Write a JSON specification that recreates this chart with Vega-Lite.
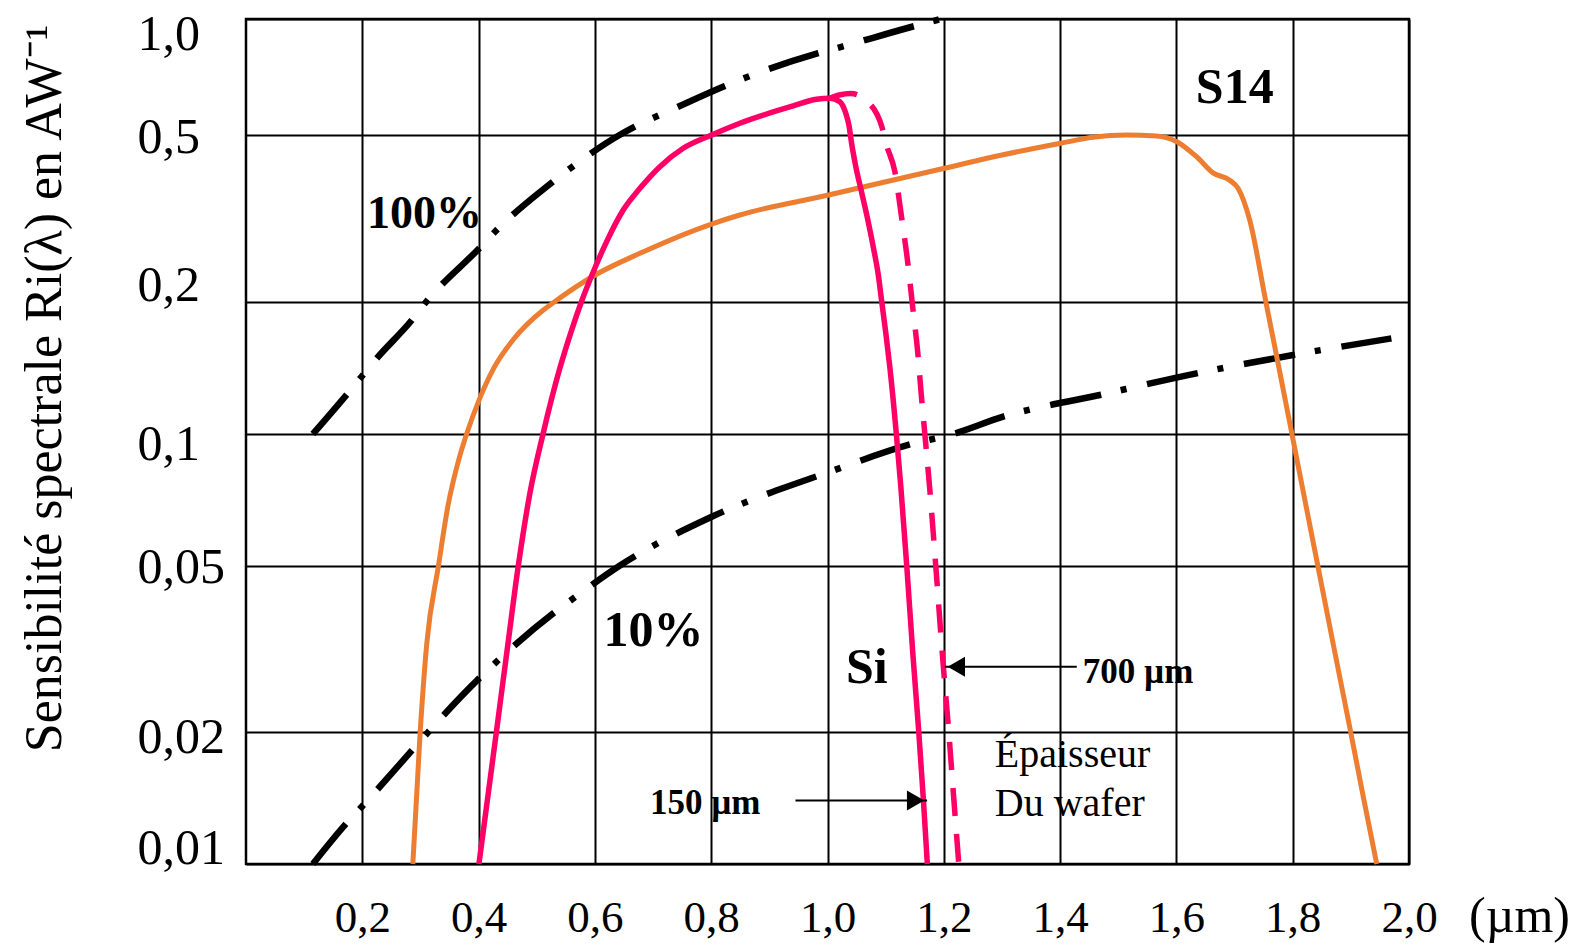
{
  "$schema": "https://vega.github.io/schema/vega-lite/v6.json",
  "width": 1163,
  "height": 845,
  "autosize": {"type": "none"},
  "padding": {"left": 246, "top": 19, "right": 174, "bottom": 81},
  "background": "white",
  "config": {"view": {"stroke": "black", "strokeWidth": 2.5}, "font": "Liberation Serif"},
  "datasets": {
    "curves": [
      {"series": "p100", "x": 0.115, "y": 0.100},
      {"series": "p100", "x": 0.1718, "y": 0.1223},
      {"series": "p100", "x": 0.1987, "y": 0.135},
      {"series": "p100", "x": 0.2244, "y": 0.1484},
      {"series": "p100", "x": 0.2846, "y": 0.1812},
      {"series": "p100", "x": 0.310, "y": 0.200},
      {"series": "p100", "x": 0.4008, "y": 0.268},
      {"series": "p100", "x": 0.4294, "y": 0.295},
      {"series": "p100", "x": 0.5279, "y": 0.387},
      {"series": "p100", "x": 0.5594, "y": 0.418},
      {"series": "p100", "x": 0.6424, "y": 0.500},
      {"series": "p100", "x": 0.6688, "y": 0.5255},
      {"series": "p100", "x": 0.7433, "y": 0.592},
      {"series": "p100", "x": 0.8235, "y": 0.670},
      {"series": "p100", "x": 0.8608, "y": 0.706},
      {"series": "p100", "x": 0.984, "y": 0.815},
      {"series": "p100", "x": 1.024, "y": 0.847},
      {"series": "p100", "x": 1.150, "y": 0.959},
      {"series": "p100", "x": 1.195, "y": 1.0},
      {"series": "p10", "x": 0.115, "y": 0.0100},
      {"series": "p10", "x": 0.1718, "y": 0.01235},
      {"series": "p10", "x": 0.1987, "y": 0.0135},
      {"series": "p10", "x": 0.2846, "y": 0.01813},
      {"series": "p10", "x": 0.313, "y": 0.0200},
      {"series": "p10", "x": 0.4008, "y": 0.0269},
      {"series": "p10", "x": 0.4306, "y": 0.02946},
      {"series": "p10", "x": 0.5308, "y": 0.0387},
      {"series": "p10", "x": 0.5623, "y": 0.0417},
      {"series": "p10", "x": 0.6424, "y": 0.0500},
      {"series": "p10", "x": 0.80, "y": 0.0646},
      {"series": "p10", "x": 1.0152, "y": 0.083},
      {"series": "p10", "x": 1.1387, "y": 0.0944},
      {"series": "p10", "x": 1.216, "y": 0.100},
      {"series": "p10", "x": 1.302, "y": 0.1095},
      {"series": "p10", "x": 1.4682, "y": 0.1227},
      {"series": "p10", "x": 1.6345, "y": 0.1374},
      {"series": "p10", "x": 1.8006, "y": 0.1513},
      {"series": "p10", "x": 1.9697, "y": 0.165},
      {"series": "S14", "x": 0.2869, "y": 0.010},
      {"series": "S14", "x": 0.2995, "y": 0.020},
      {"series": "S14", "x": 0.3108, "y": 0.0325},
      {"series": "S14", "x": 0.3310, "y": 0.050},
      {"series": "S14", "x": 0.3473, "y": 0.0685},
      {"series": "S14", "x": 0.3681, "y": 0.0895},
      {"series": "S14", "x": 0.3794, "y": 0.100},
      {"series": "S14", "x": 0.4006, "y": 0.1193},
      {"series": "S14", "x": 0.4252, "y": 0.1405},
      {"series": "S14", "x": 0.4594, "y": 0.1638},
      {"series": "S14", "x": 0.5108, "y": 0.1912},
      {"series": "S14", "x": 0.5307, "y": 0.200},
      {"series": "S14", "x": 0.6005, "y": 0.2316},
      {"series": "S14", "x": 0.6774, "y": 0.2609},
      {"series": "S14", "x": 0.8006, "y": 0.3065},
      {"series": "S14", "x": 0.8493, "y": 0.3221},
      {"series": "S14", "x": 1.0018, "y": 0.3595},
      {"series": "S14", "x": 1.2012, "y": 0.4165},
      {"series": "S14", "x": 1.300, "y": 0.448},
      {"series": "S14", "x": 1.4012, "y": 0.478},
      {"series": "S14", "x": 1.4567, "y": 0.4937},
      {"series": "S14", "x": 1.514, "y": 0.500},
      {"series": "S14", "x": 1.5656, "y": 0.4975},
      {"series": "S14", "x": 1.6009, "y": 0.482},
      {"series": "S14", "x": 1.6346, "y": 0.4437},
      {"series": "S14", "x": 1.663, "y": 0.406},
      {"series": "S14", "x": 1.6917, "y": 0.390},
      {"series": "S14", "x": 1.706, "y": 0.373},
      {"series": "S14", "x": 1.7261, "y": 0.313},
      {"series": "S14", "x": 1.7538, "y": 0.200},
      {"series": "S14", "x": 1.7764, "y": 0.1413},
      {"series": "S14", "x": 1.7987, "y": 0.100},
      {"series": "S14", "x": 1.8209, "y": 0.0707},
      {"series": "S14", "x": 1.8432, "y": 0.050},
      {"series": "S14", "x": 1.8714, "y": 0.0316},
      {"series": "S14", "x": 1.8998, "y": 0.020},
      {"series": "S14", "x": 1.9218, "y": 0.01415},
      {"series": "S14", "x": 1.9445, "y": 0.010},
      {"series": "Si150", "x": 0.4006, "y": 0.010},
      {"series": "Si150", "x": 0.4305, "y": 0.020},
      {"series": "Si150", "x": 0.4504, "y": 0.0325},
      {"series": "Si150", "x": 0.4683, "y": 0.050},
      {"series": "Si150", "x": 0.4879, "y": 0.0728},
      {"series": "Si150", "x": 0.5108, "y": 0.100},
      {"series": "Si150", "x": 0.5393, "y": 0.1405},
      {"series": "Si150", "x": 0.5600, "y": 0.1724},
      {"series": "Si150", "x": 0.5768, "y": 0.200},
      {"series": "Si150", "x": 0.6000, "y": 0.2407},
      {"series": "Si150", "x": 0.6206, "y": 0.2791},
      {"series": "Si150", "x": 0.6487, "y": 0.3311},
      {"series": "Si150", "x": 0.6774, "y": 0.3729},
      {"series": "Si150", "x": 0.7118, "y": 0.4201},
      {"series": "Si150", "x": 0.7518, "y": 0.4648},
      {"series": "Si150", "x": 0.8006, "y": 0.500},
      {"series": "Si150", "x": 0.8493, "y": 0.5364},
      {"series": "Si150", "x": 0.941, "y": 0.595},
      {"series": "Si150", "x": 0.981, "y": 0.619},
      {"series": "Si150", "x": 1.004, "y": 0.623},
      {"series": "Si150", "x": 1.0212, "y": 0.610},
      {"series": "Si150", "x": 1.0307, "y": 0.5737},
      {"series": "Si150", "x": 1.0368, "y": 0.5306},
      {"series": "Si150", "x": 1.0419, "y": 0.4731},
      {"series": "Si150", "x": 1.0487, "y": 0.4201},
      {"series": "Si150", "x": 1.0590, "y": 0.3634},
      {"series": "Si150", "x": 1.0694, "y": 0.3133},
      {"series": "Si150", "x": 1.0797, "y": 0.2657},
      {"series": "Si150", "x": 1.0874, "y": 0.2316},
      {"series": "Si150", "x": 1.0929, "y": 0.2018},
      {"series": "Si150", "x": 1.1003, "y": 0.1697},
      {"series": "Si150", "x": 1.1072, "y": 0.142},
      {"series": "Si150", "x": 1.1184, "y": 0.100},
      {"series": "Si150", "x": 1.1261, "y": 0.0758},
      {"series": "Si150", "x": 1.1364, "y": 0.0497},
      {"series": "Si150", "x": 1.1467, "y": 0.0309},
      {"series": "Si150", "x": 1.1570, "y": 0.020},
      {"series": "Si150", "x": 1.1648, "y": 0.0141},
      {"series": "Si150", "x": 1.1717, "y": 0.010},
      {"series": "Si700", "x": 1.004, "y": 0.623},
      {"series": "Si700", "x": 1.02, "y": 0.635},
      {"series": "Si700", "x": 1.04, "y": 0.641},
      {"series": "Si700", "x": 1.055, "y": 0.632},
      {"series": "Si700", "x": 1.070, "y": 0.609},
      {"series": "Si700", "x": 1.0935, "y": 0.525},
      {"series": "Si700", "x": 1.1015, "y": 0.473},
      {"series": "Si700", "x": 1.1158, "y": 0.409},
      {"series": "Si700", "x": 1.1273, "y": 0.319},
      {"series": "Si700", "x": 1.1381, "y": 0.2474},
      {"series": "Si700", "x": 1.1467, "y": 0.1935},
      {"series": "Si700", "x": 1.1553, "y": 0.1529},
      {"series": "Si700", "x": 1.1613, "y": 0.1227},
      {"series": "Si700", "x": 1.1674, "y": 0.100},
      {"series": "Si700", "x": 1.1760, "y": 0.0745},
      {"series": "Si700", "x": 1.1863, "y": 0.0497},
      {"series": "Si700", "x": 1.1983, "y": 0.0298},
      {"series": "Si700", "x": 1.2086, "y": 0.020},
      {"series": "Si700", "x": 1.2172, "y": 0.0141},
      {"series": "Si700", "x": 1.2258, "y": 0.010}
    ],
    "bigLabels": [
      {"text": "S14", "x": 1.7003, "y": 0.605},
      {"text": "100%", "x": 0.3069, "y": 0.300},
      {"text": "10%", "x": 0.7006, "y": 0.0321},
      {"text": "Si", "x": 1.0677, "y": 0.0262}
    ],
    "smallBold": [
      {"text": "700 µm", "x": 1.439, "y": 0.0263},
      {"text": "150 µm", "x": 0.6946, "y": 0.01303}
    ],
    "regular": [
      {"text": "Épaisseur", "x": 1.2877, "y": 0.01669},
      {"text": "Du wafer", "x": 1.2877, "y": 0.01289}
    ],
    "arrows": [
      {"dir": "left", "x": 1.2018, "x2": 1.4287, "y": 0.02869},
      {"dir": "right", "x": 1.1713, "x2": 0.9449, "y": 0.01396}
    ]
  },
  "encoding": {
    "x": {
      "field": "x", "type": "quantitative",
      "scale": {"domain": [0, 2], "nice": false, "zero": false},
      "axis": {
        "values": [0.2, 0.4, 0.6, 0.8, 1.0, 1.2, 1.4, 1.6, 1.8, 2.0],
        "grid": true, "gridColor": "black", "gridWidth": 2, "gridOpacity": 1,
        "domain": false, "ticks": false, "tickSize": 0,
        "labelExpr": "replace(format(datum.value, '.1f'), '.', ',')",
        "labelFont": "Liberation Serif", "labelFontSize": 45, "labelColor": "black",
        "labelBaseline": "alphabetic", "labelPadding": 67, "labelFlush": false, "labelOverlap": false,
        "title": "(µm)", "titleFont": "Liberation Serif", "titleFontSize": 50, "titleFontWeight": "normal",
        "titleColor": "black", "titleX": 1273, "titleY": 67, "titleAlign": "center",
        "titleBaseline": "alphabetic", "titleAngle": 0
      }
    },
    "y": {
      "field": "y", "type": "quantitative",
      "scale": {
        "type": "log", "nice": false,
        "domain": [0.01, 0.02, 0.05, 0.1, 0.2, 0.5, 1],
        "range": [845, 713.3, 546.7, 415, 282.7, 116, 0]
      },
      "axis": {
        "values": [0.01, 0.02, 0.05, 0.1, 0.2, 0.5, 1],
        "grid": true, "gridColor": "black", "gridWidth": 2, "gridOpacity": 1,
        "domain": false, "ticks": false, "tickSize": 0,
        "labelExpr": "datum.value == 1 ? '1,0' : replace(toString(datum.value), '.', ',')",
        "labelFont": "Liberation Serif", "labelFontSize": 50, "labelColor": "black",
        "labelAlign": "left", "labelPadding": 109, "labelBaseline": "middle",
        "labelFlush": false, "labelOverlap": false,
        "labelOffset": {
          "condition": [
            {"test": "datum.value == 1", "value": 15},
            {"test": "datum.value == 0.5", "value": 2},
            {"test": "datum.value == 0.2", "value": -16},
            {"test": "datum.value == 0.1", "value": 10},
            {"test": "datum.value == 0.05", "value": 2},
            {"test": "datum.value == 0.02", "value": 5},
            {"test": "datum.value == 0.01", "value": -16}
          ],
          "value": 0
        },
        "title": "Sensibilité spectrale Ri(λ) en AW⁻¹",
        "titleFont": "Liberation Serif", "titleFontSize": 52, "titleFontWeight": "normal",
        "titleColor": "black", "titleAngle": -90, "titleX": -186, "titleY": 369,
        "titleAlign": "center", "titleBaseline": "alphabetic"
      }
    }
  },
  "layer": [
    {
      "data": {"name": "curves"},
      "transform": [{"filter": "datum.series == 'p100' || datum.series == 'p10'"}],
      "mark": {"type": "line", "color": "black", "strokeWidth": 6.5, "strokeDash": [52, 20, 6, 21], "strokeCap": "butt", "interpolate": "monotone"},
      "encoding": {"detail": {"field": "series"}}
    },
    {
      "data": {"name": "curves"},
      "transform": [{"filter": "datum.series == 'S14'"}],
      "mark": {"type": "line", "color": "#ED7D31", "strokeWidth": 5, "interpolate": "monotone"},
      "encoding": {}
    },
    {
      "data": {"name": "curves"},
      "transform": [{"filter": "datum.series == 'Si700'"}],
      "mark": {"type": "line", "color": "#FF0066", "strokeWidth": 5.5, "strokeDash": [28, 18], "strokeCap": "butt", "interpolate": "monotone"},
      "encoding": {}
    },
    {
      "data": {"name": "curves"},
      "transform": [{"filter": "datum.series == 'Si150'"}],
      "mark": {"type": "line", "color": "#FF0066", "strokeWidth": 5.5, "interpolate": "monotone"},
      "encoding": {}
    },
    {
      "data": {"name": "arrows"},
      "mark": {"type": "rule", "color": "black", "strokeWidth": 2},
      "encoding": {"x2": {"field": "x2"}}
    },
    {
      "data": {"name": "arrows"},
      "transform": [{"filter": "datum.dir == 'left'"}],
      "mark": {"type": "point", "shape": "triangle-left", "filled": true, "size": 400, "color": "black", "opacity": 1, "xOffset": 11.5},
      "encoding": {}
    },
    {
      "data": {"name": "arrows"},
      "transform": [{"filter": "datum.dir == 'right'"}],
      "mark": {"type": "point", "shape": "triangle-right", "filled": true, "size": 400, "color": "black", "opacity": 1, "xOffset": -11.5},
      "encoding": {}
    },
    {
      "data": {"name": "bigLabels"},
      "mark": {"type": "text", "font": "Liberation Serif", "fontWeight": "bold", "align": "center", "baseline": "alphabetic", "color": "black"},
      "encoding": {
        "text": {"field": "text"},
        "size": {"condition": {"test": "datum.text == '100%'", "value": 46}, "value": 50}
      }
    },
    {
      "data": {"name": "smallBold"},
      "mark": {"type": "text", "font": "Liberation Serif", "fontWeight": "bold", "fontSize": 35, "align": "left", "baseline": "alphabetic", "color": "black"},
      "encoding": {"text": {"field": "text"}}
    },
    {
      "data": {"name": "regular"},
      "mark": {"type": "text", "font": "Liberation Serif", "fontSize": 40, "align": "left", "baseline": "alphabetic", "color": "black"},
      "encoding": {"text": {"field": "text"}}
    }
  ]
}
